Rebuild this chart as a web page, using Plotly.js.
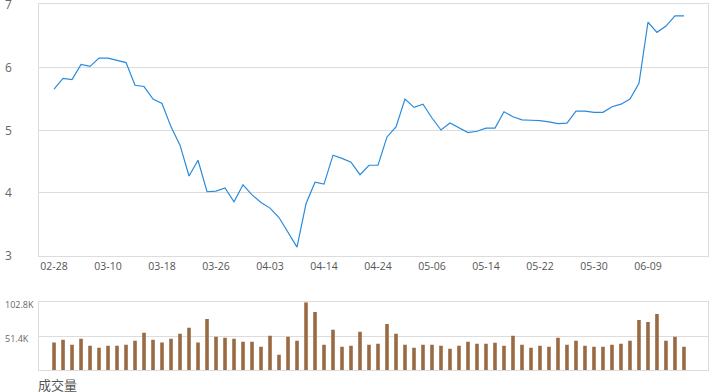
<!DOCTYPE html>
<html>
<head>
<meta charset="utf-8">
<script src="https://cdn.plot.ly/plotly-3.0.1.min.js"></script>
<style>
html,body{margin:0;padding:0;background:#fff;}
#chart{width:720px;height:392px;}
</style>
</head>
<body>
<div id="chart"></div>
<script>
const dates = [
 "02-28","03-03","03-04","03-05","03-06","03-07",
 "03-10","03-11","03-12","03-13","03-14","03-17",
 "03-18","03-19","03-20","03-21","03-24","03-25",
 "03-26","03-27","03-28","03-31","04-01","04-02",
 "04-03","04-07","04-08","04-09","04-10","04-11",
 "04-14","04-15","04-16","04-17","04-18","04-21",
 "04-24","04-25","04-28","04-29","04-30","05-05",
 "05-06","05-07","05-08","05-09","05-12","05-13",
 "05-14","05-15","05-16","05-19","05-20","05-21",
 "05-22","05-23","05-26","05-27","05-28","05-29",
 "05-30","06-02","06-03","06-04","06-05","06-06",
 "06-09","06-10","06-11","06-12","06-13"
];
const price = [
 5.65,5.82,5.80,6.04,6.01,6.14,
 6.14,6.10,6.07,5.71,5.69,5.49,
 5.42,5.05,4.76,4.27,4.52,4.02,
 4.03,4.08,3.86,4.13,3.97,3.85,
 3.76,3.61,3.37,3.14,3.83,4.17,
 4.14,4.60,4.55,4.49,4.29,4.44,
 4.44,4.89,5.05,5.49,5.36,5.41,
 5.19,5.00,5.11,5.04,4.96,4.98,
 5.03,5.03,5.29,5.21,5.16,5.155,
 5.15,5.13,5.10,5.11,5.30,5.30,
 5.28,5.28,5.37,5.41,5.49,5.74,
 6.71,6.55,6.65,6.81,6.81
];
const volumeK = [
 41.8,45.8,38.3,47.3,36.7,33.7,
 36.7,36.7,38.3,44.3,56.4,45.8,
 41.8,47.3,54.9,64.0,41.8,77.6,
 50.4,48.8,47.3,42.8,42.8,35.2,
 51.9,23.1,50.4,44.3,102.8,88.2,
 38.3,61.0,35.2,36.7,57.9,38.3,
 39.8,70.0,54.9,38.3,33.7,38.3,
 38.3,36.7,32.2,36.7,42.8,39.8,
 39.8,41.3,36.7,51.9,38.3,33.7,
 36.7,35.2,48.8,38.3,44.3,36.7,
 35.2,35.2,38.3,39.8,44.3,76.1,
 73.0,85.1,44.3,50.4,35.2
];
const xTickLabels = ["02-28","03-10","03-18","03-26","04-03","04-14","04-24","05-06","05-14","05-22","05-30","06-09"];
const priceTicks = [3,4,5,6,7];
const volTickVals = [51.4,102.8];
const volTickText = ["51.4K","102.8K"];
const volTitle = "成交量";

const gridC = "#dcdcdc";
const xr = [-1.67, 72.67];
const labelX = (3 - 39) / 669;

const traces = [
 {type:"scatter", mode:"lines", x:dates, y:price, xaxis:"x", yaxis:"y",
  line:{color:"#2a8bdc", width:1.2}, hoverinfo:"x+y"},
 {type:"bar", x:dates, y:volumeK, xaxis:"x2", yaxis:"y2",
  marker:{color:"#9a6a43"}, width:0.4, hoverinfo:"x+y"}
];

const annotations = [];
priceTicks.forEach(v => annotations.push({
  text:String(v), xref:"paper", yref:"y", x:labelX, y:v, xanchor:"left", yanchor:"middle",
  showarrow:false, font:{size:12, color:"#666"}
}));
volTickVals.forEach((v,i) => annotations.push({
  text:volTickText[i], xref:"paper", yref:"y2", x:labelX, y:v, xanchor:"left", yanchor:"middle",
  yshift:-2, showarrow:false, font:{size:9, color:"#666"}
}));
annotations.push({text:volTitle, xref:"paper", yref:"paper", x:(36-39)/669, y:(370-384)/366,
  xanchor:"left", yanchor:"middle", showarrow:false,
  font:{family:"Noto Sans CJK SC, sans-serif", size:13, color:"#555"}});

const layout = {
 width:720, height:392,
 margin:{l:39, r:12, t:4, b:22},
 paper_bgcolor:"#fff", plot_bgcolor:"#fff",
 showlegend:false,
 font:{family:"Open Sans, Noto Sans CJK SC, sans-serif", color:"#666"},
 xaxis:{type:"category", range:xr, tickmode:"array", tickvals:xTickLabels, ticktext:xTickLabels,
   showgrid:false, showline:true, linecolor:gridC, mirror:true, zeroline:false,
   ticks:"", tickfont:{size:10.5, color:"#555"}, anchor:"y"},
 yaxis:{domain:[0.3115,1], range:[3,7], tickvals:priceTicks, showticklabels:false,
   showgrid:true, gridcolor:gridC, showline:true, linecolor:gridC, mirror:true, zeroline:false, ticks:""},
 xaxis2:{type:"category", range:xr, matches:"x", showticklabels:false, showgrid:false,
   showline:true, linecolor:gridC, mirror:true, zeroline:false, ticks:"", anchor:"y2"},
 yaxis2:{domain:[0,0.185], range:[0,102.8], tickmode:"array", tickvals:volTickVals, showticklabels:false,
   showgrid:true, gridcolor:gridC, showline:true, linecolor:gridC, mirror:true, zeroline:false,
   ticks:"", anchor:"x2"},
 annotations:annotations
};

Plotly.newPlot("chart", traces, layout, {displayModeBar:false, staticPlot:true});
</script>
</body>
</html>
